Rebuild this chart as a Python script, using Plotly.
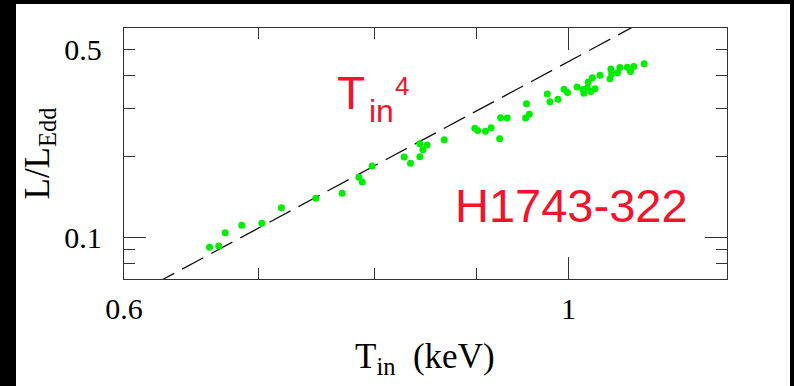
import math
import plotly.graph_objects as go

# ---- data ----
T_in = [0.662, 0.669, 0.674, 0.687, 0.703, 0.719, 0.748, 0.771, 0.786, 0.789,
        0.798, 0.828, 0.834, 0.843, 0.846, 0.843, 0.850, 0.867, 0.898, 0.901,
        0.909, 0.915, 0.924, 0.925, 0.932, 0.952, 0.956, 0.953, 0.976, 0.979,
        0.988, 0.995, 0.999, 1.010, 1.017, 1.018, 1.022, 1.023, 1.028, 1.031,
        1.026, 1.037, 1.049, 1.051, 1.050, 1.058, 1.061, 1.070, 1.074, 1.078,
        1.091]
L_Edd = [0.0918, 0.0929, 0.1040, 0.1108, 0.1128, 0.1289, 0.1397, 0.1458, 0.1672, 0.1606,
         0.1842, 0.1989, 0.1886, 0.1994, 0.2117, 0.2229, 0.2204, 0.2306, 0.2543, 0.2496,
         0.2479, 0.2556, 0.2326, 0.2784, 0.2777, 0.2777, 0.2866, 0.3136, 0.3410, 0.3193,
         0.3262, 0.3554, 0.3455, 0.3621, 0.3545, 0.3434, 0.3590, 0.3780, 0.3922, 0.3566,
         0.3484, 0.4003, 0.3889, 0.4048, 0.4224, 0.4089, 0.4279, 0.4287, 0.4136, 0.4316,
         0.4417]

# T^4 reference relation  L = norm * T^4
norm = 0.45
model_T = [0.6, 1.2]
model_L = [norm * t ** 4 for t in model_T]

x_range = [0.6, 1.2]
y_range = [0.07, 0.6]
x_major = [0.6, 1]
x_major_text = ["0.6", "1"]
x_minor = [0.7, 0.8, 0.9]
y_labels = [0.1, 0.5]
y_labels_text = ["0.1", "0.5"]
y_minor = [0.08, 0.09, 0.2, 0.3, 0.4]
y_long = [0.1]

lx = [math.log10(v) for v in x_range]
ly = [math.log10(v) for v in y_range]

AX = "#333333"
RED = "#F0142D"
SERIF = "Liberation Serif"
SANS = "Liberation Sans, Arial, sans-serif"

fig = go.Figure()
fig.add_trace(go.Scatter(x=model_T, y=model_L, mode="lines",
                         line=dict(color="#111111", width=1.3, dash="24px,9px"),
                         showlegend=False, hoverinfo="skip"))
fig.add_trace(go.Scatter(x=T_in, y=L_Edd, mode="markers",
                         marker=dict(color="#00EE00", size=7, line=dict(width=0)),
                         showlegend=False))
fig.add_trace(go.Scatter(x=[], y=[], yaxis="y2", showlegend=False))

fig.update_layout(
    width=794, height=386, autosize=False,
    margin=dict(l=124, r=67, t=28, b=107, pad=0),
    paper_bgcolor="black", plot_bgcolor="white",
    xaxis=dict(type="log", range=lx, tickvals=x_major, ticktext=x_major_text,
               ticks="inside", ticklen=22, tickwidth=1.3, tickcolor=AX,
               showline=True, linecolor=AX, linewidth=1.3, mirror="ticks",
               showgrid=False, zeroline=False,
               tickfont=dict(family=SERIF, size=30, color="black"),
               ticklabelstandoff=3,
               minor=dict(tickvals=x_minor, ticks="inside", ticklen=11,
                          tickwidth=1.3, tickcolor=AX, showgrid=False)),
    yaxis=dict(type="log", range=ly, tickvals=y_labels, ticktext=y_labels_text,
               ticks="inside", ticklen=11, tickwidth=1.3, tickcolor=AX,
               showline=True, linecolor=AX, linewidth=1.3, mirror="ticks",
               showgrid=False, zeroline=False,
               tickfont=dict(family=SERIF, size=30, color="black"),
               ticklabelstandoff=15,
               minor=dict(tickvals=y_minor, ticks="inside", ticklen=11,
                          tickwidth=1.3, tickcolor=AX, showgrid=False)),
    yaxis2=dict(type="log", range=ly, overlaying="y", side="left",
                tickvals=y_long, ticks="inside", ticklen=22, tickwidth=1.3,
                tickcolor=AX, showticklabels=False, showline=True,
                linecolor=AX, linewidth=1.3, mirror="ticks",
                showgrid=False, zeroline=False),
    shapes=[dict(type="rect", xref="paper", yref="paper",
                 x0=-0.1791, x1=1.1045, y0=-0.5, y1=1.0956,
                 fillcolor="white", line=dict(width=0), layer="below")],
    annotations=[
        dict(text="T", x=0.3765, y=0.741, xref="paper", yref="paper",
             showarrow=False, font=dict(family=SANS, size=46, color=RED),
             xanchor="center", yanchor="middle"),
        dict(text="in", x=(381 - 124) / 603, y=(279 - 111) / 251, xref="paper", yref="paper",
             showarrow=False, font=dict(family=SANS, size=32, color=RED),
             xanchor="center", yanchor="middle"),
        dict(text="4", x=(401.5 - 124) / 603, y=(279 - 86) / 251, xref="paper", yref="paper",
             showarrow=False, font=dict(family=SANS, size=26, color=RED),
             xanchor="center", yanchor="middle"),
        dict(text="H1743-322", x=0.7413, y=0.2948, xref="paper", yref="paper",
             showarrow=False, font=dict(family=SANS, size=47, color=RED),
             xanchor="center", yanchor="middle"),
        dict(text="T<sub>in</sub>\u00a0\u00a0(keV)", x=0.4992, y=(279 - 358) / 251,
             xref="paper", yref="paper", showarrow=False,
             font=dict(family=SERIF, size=35, color="black"),
             xanchor="center", yanchor="middle"),
        dict(text="L/L<sub>Edd</sub>", x=(39 - 124) / 603, y=0.5,
             xref="paper", yref="paper", showarrow=False, textangle=-90,
             font=dict(family=SERIF, size=35, color="black"),
             xanchor="center", yanchor="middle"),
    ],
)

fig.write_html("out.html", config={"displayModeBar": False},
               post_script="document.body.style.margin='0px';document.body.style.overflow='hidden';")
